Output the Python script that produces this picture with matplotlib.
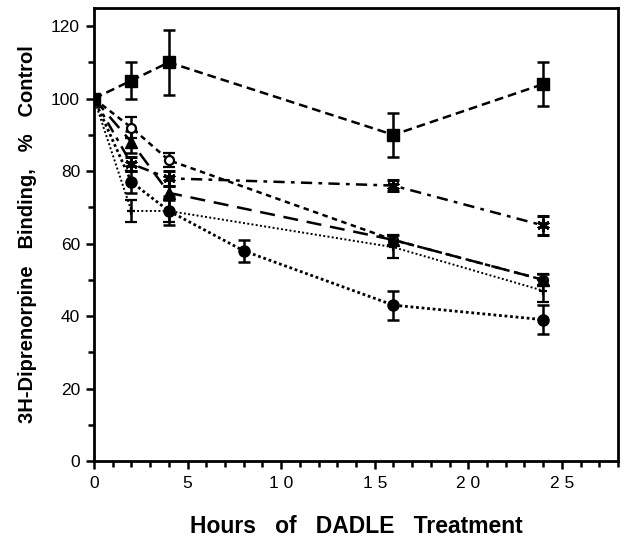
import matplotlib
matplotlib.use("Agg")
import matplotlib.pyplot as plt
from matplotlib.ticker import MultipleLocator

plt.rcParams['font.family'] = ['Liberation Sans', 'DejaVu Sans']

# hours of DADLE treatment
t_sq = [0, 2, 4, 16, 24]
sq = [100, 105, 110, 90, 104]
sq_err = [0, 5, 9, 6, 6]

t_oc = [0, 2, 4, 16, 24]
oc = [100, 92, 83, 61, 50]
oc_err = [0, 3, 2, 1.5, 1.5]

t_tri = [0, 2, 4, 16, 24]
tri = [100, 88, 74, 61, 50]
tri_err = [0, 3, 2, 1.5, 1.5]

t_st = [0, 2, 4, 16, 24]
st = [100, 82, 78, 76, 65]
st_err = [0, 2, 2, 1.5, 2.5]

t_fc = [0, 2, 4, 8, 16, 24]
fc = [100, 77, 69, 58, 43, 39]
fc_err = [0, 3, 4, 3, 4, 4]

t_sm = [0, 2, 4, 16, 24]
sm = [100, 69, 69, 59, 47]
sm_err = [0, 3, 3, 3, 3]

fig = plt.figure(figsize=(6.29, 5.46), dpi=100)
ax = fig.add_axes([0.1494, 0.1557, 0.8331, 0.8296])

ekw = dict(color='black', ecolor='black', elinewidth=1.8, capsize=4, capthick=1.8)
ax.errorbar(t_sq, sq, yerr=sq_err, marker='s', ms=8, ls=(0, (3.5, 2)), lw=1.8, **ekw)
ax.errorbar(t_oc, oc, yerr=oc_err, marker='o', ms=6.5, mfc='white', mew=1.6,
            ls=(0, (2.2, 1.8)), lw=1.8, **ekw)
ax.errorbar(t_tri, tri, yerr=tri_err, marker='^', ms=8, ls=(0, (6, 3.5)), lw=1.8, **ekw)
ax.errorbar(t_st, st, yerr=st_err, marker=(6, 2, 0), ms=9, mew=2.2,
            ls=(0, (4.5, 2.5, 1.5, 2.5)), lw=1.8, **ekw)
ax.errorbar(t_fc, fc, yerr=fc_err, marker='o', ms=8, ls=(0, (1, 1)), lw=2, **ekw)
ax.errorbar(t_sm, sm, yerr=sm_err, marker='+', ms=6, mew=1.6, ls=(0, (1, 1.2)), lw=1.4, **ekw)

ax.set_xlim(0, 28)
ax.set_ylim(0, 125)
ax.xaxis.set_major_locator(MultipleLocator(5))
ax.xaxis.set_minor_locator(MultipleLocator(1))
ax.yaxis.set_major_locator(MultipleLocator(20))
ax.yaxis.set_minor_locator(MultipleLocator(10))
ax.set_xticks([0, 5, 10, 15, 20, 25])
ax.set_xticklabels(['0', '5', '1 0', '1 5', '2 0', '2 5'])

for s in ax.spines.values():
    s.set_linewidth(2)
ax.tick_params(which='both', direction='out', width=1.8, labelsize=12.5)
ax.tick_params(which='major', length=6)
ax.tick_params(which='minor', length=4)
ax.tick_params(axis='x', pad=5)
ax.tick_params(axis='y', pad=4)

ax.set_xlabel('Hours   of   DADLE   Treatment', fontsize=16.5, fontweight='bold', labelpad=17)
ax.set_ylabel('3H-Diprenorpine   Binding,   %   Control', fontsize=14.5,
              fontweight='bold', labelpad=10)

fig.savefig('out.png', dpi=100)
